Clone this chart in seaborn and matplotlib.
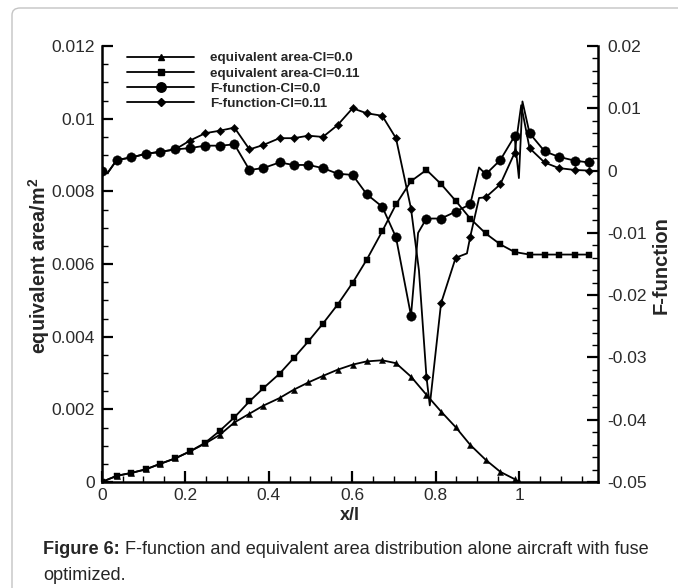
import matplotlib
matplotlib.use("Agg")
import matplotlib.pyplot as plt
from matplotlib.lines import Line2D
from matplotlib.patches import FancyBboxPatch
from matplotlib.ticker import MultipleLocator, FuncFormatter
import pandas as pd
import seaborn as sns

# ---------------- data ----------------
x_grid = [0.000, 0.036, 0.071, 0.106, 0.140, 0.176, 0.211, 0.248, 0.283, 0.318,
          0.354, 0.387, 0.426, 0.460, 0.495, 0.530, 0.565, 0.601, 0.635, 0.672,
          0.705, 0.741, 0.778, 0.813, 0.848, 0.883, 0.920, 0.955, 0.989, 1.025,
          1.061, 1.095, 1.133, 1.167]

area_cl011 = [0.0000, 0.00017, 0.00025, 0.00035, 0.00050, 0.00065, 0.00084, 0.00108, 0.00141, 0.00178,
              0.00222, 0.00258, 0.00298, 0.00341, 0.00387, 0.00436, 0.00488, 0.00548, 0.00612, 0.00690,
              0.00764, 0.00828, 0.00859, 0.00820, 0.00774, 0.00725, 0.00684, 0.00654, 0.00633, 0.00626,
              0.00626, 0.00626, 0.00626, 0.00626]

area_cl0_x = x_grid[:29] + [1.000]
area_cl0 = [0.0000, 0.00017, 0.00025, 0.00035, 0.00050, 0.00065, 0.00084, 0.00106, 0.00130, 0.00164,
            0.00188, 0.00210, 0.00231, 0.00254, 0.00274, 0.00292, 0.00309, 0.00323, 0.00332, 0.00335,
            0.00327, 0.00290, 0.00240, 0.00194, 0.00151, 0.00102, 0.00061, 0.00028, 0.00008, 0.00000]

f_cl0 = [0.0000, 0.0017, 0.0021, 0.0027, 0.0030, 0.0034, 0.0036, 0.0040, 0.0040, 0.0042,
         0.0001, 0.0004, 0.0013, 0.0009, 0.0009, 0.0004, -0.0005, -0.0007, -0.0038, -0.0058,
         -0.0107, -0.0233, -0.0077, -0.0077, -0.0066, -0.0054, -0.0006, 0.0017, 0.0055, 0.0060,
         0.0031, 0.0022, 0.0016, 0.0013]
f_cl0_extra_x = [0.014, 0.758, 0.904, 0.9995, 1.008]
f_cl0_extra_y = [-0.0004, -0.0100, 0.0005, -0.0012, 0.0111]

f_cl011 = [0.0000, 0.0017, 0.0021, 0.0027, 0.0030, 0.0034, 0.0048, 0.0060, 0.0064, 0.0069,
           0.0034, 0.0041, 0.0052, 0.0052, 0.0056, 0.0054, 0.0073, 0.0100, 0.0092, 0.0088,
           0.0052, -0.0061, -0.0331, -0.0213, -0.0140, -0.0106, -0.0043, -0.0022, 0.0028, 0.0036,
           0.0013, 0.0004, 0.0001, 0.0000]
f_cl011_extra_x = [0.014, 0.760, 0.786, 0.875, 0.904, 1.005]
f_cl011_extra_y = [-0.0004, -0.0160, -0.0377, -0.0133, -0.0044, 0.0105]

labels = ["equivalent area-Cl=0.0", "equivalent area-Cl=0.11",
          "F-function-Cl=0.0", "F-function-Cl=0.11"]
x_label = "x/l"
y_left_label = r"equivalent area/m$^{\mathbf{2}}$"
y_right_label = "F-function"
caption_bold = "Figure 6:"
caption_rest = " F-function and equivalent area distribution alone aircraft with fuse"
caption_line2 = "optimized."

# ---------------- style ----------------
sns.set_theme(style="white")
plt.rcParams["font.family"] = ["Liberation Sans", "DejaVu Sans"]
plt.rcParams["mathtext.fontset"] = "custom"
plt.rcParams["mathtext.rm"] = "Liberation Sans"
plt.rcParams["mathtext.bf"] = "Liberation Sans:bold"

W, H = 678, 588
fig = plt.figure(figsize=(W / 100, H / 100), dpi=100)


def fx(px):
    return px / W


def fy(py):
    return 1 - py / H


# frame border of the figure panel
fig.patches.append(FancyBboxPatch((fx(12), fy(640)), fx(700), fy(8) - fy(640),
                                  boxstyle="round,pad=0,rounding_size=0.012",
                                  transform=fig.transFigure, fill=False,
                                  edgecolor="#c4c4c4", linewidth=1.0, zorder=0))

ax_l, ax_r, ax_t, ax_b = 101.7, 598, 46, 482
ax = fig.add_axes([fx(ax_l), fy(ax_b), fx(ax_r - ax_l), fy(ax_t) - fy(ax_b)])
ax2 = ax.twinx()

LW = 1.3
MS = {"^": 4.4, "s": 5.0, "o": 6.8, "D": 4.2}


def draw(axis, xs, ys, marker, xe=None, ye=None):
    line_x = list(xs) + (list(xe) if xe else [])
    line_y = list(ys) + (list(ye) if ye else [])
    df_line = pd.DataFrame({"x": line_x, "y": line_y}).sort_values("x")
    sns.lineplot(data=df_line, x="x", y="y", ax=axis, color="black", lw=LW,
                 estimator=None, sort=False, legend=False, zorder=3)
    df_m = pd.DataFrame({"x": xs, "y": ys})
    sns.scatterplot(data=df_m, x="x", y="y", ax=axis, marker=marker,
                    s=MS[marker] ** 2, color="black", edgecolor="black",
                    linewidth=0.3, legend=False, zorder=4)


draw(ax, area_cl0_x, area_cl0, "^")
draw(ax, x_grid, area_cl011, "s")
draw(ax2, x_grid, f_cl0, "o", f_cl0_extra_x, f_cl0_extra_y)
draw(ax2, x_grid, f_cl011, "D", f_cl011_extra_x, f_cl011_extra_y)

# ---------------- axes ----------------
ax.set_xlim(0, 1.189)
ax.set_ylim(0, 0.012)
ax2.set_ylim(-0.05, 0.02)


def fmt(v, pos):
    v = round(v, 6) + 0.0
    return f"{v:g}"


ax.xaxis.set_major_locator(MultipleLocator(0.2))
ax.xaxis.set_minor_locator(MultipleLocator(0.05))
ax.yaxis.set_major_locator(MultipleLocator(0.002))
ax.yaxis.set_minor_locator(MultipleLocator(0.0005))
ax2.yaxis.set_major_locator(MultipleLocator(0.01))
ax2.yaxis.set_minor_locator(MultipleLocator(0.002))
for a in (ax.xaxis, ax.yaxis, ax2.yaxis):
    a.set_major_formatter(FuncFormatter(fmt))

TICK_FS = 12.5
TICK_COL = "#2a2a2a"
ax.tick_params(axis="x", which="both", direction="in", bottom=True, top=False,
               labelsize=TICK_FS, labelcolor=TICK_COL, width=1.6, color="black", pad=4)
ax.tick_params(axis="x", which="major", length=8)
ax.tick_params(axis="x", which="minor", length=4.5, width=1.0)
ax.tick_params(axis="y", which="both", direction="in", left=True, right=False,
               labelsize=TICK_FS, labelcolor=TICK_COL, width=1.6, color="black", pad=5)
ax.tick_params(axis="y", which="major", length=8)
ax.tick_params(axis="y", which="minor", length=4.5, width=1.0)
ax2.tick_params(axis="y", which="both", direction="in", right=True, left=False,
                labelsize=TICK_FS, labelcolor=TICK_COL, width=1.6, color="black", pad=6.5)
ax2.tick_params(axis="y", which="major", length=8)
ax2.tick_params(axis="y", which="minor", length=4.5, width=1.0)

for a in (ax, ax2):
    a.spines["top"].set_visible(False)
    for s in ("left", "right", "bottom"):
        a.spines[s].set_linewidth(1.8)
        a.spines[s].set_color("black")
ax2.spines["left"].set_visible(False)
ax2.spines["bottom"].set_visible(False)
ax.spines["right"].set_visible(False)

ax.set_xlabel("")
ax.set_ylabel("")
ax2.set_ylabel("")
fig.text(fx(350), fy(515), x_label, fontsize=13, fontweight="bold",
         ha="center", va="center")
fig.text(fx(39), fy(266), y_left_label, fontsize=14.2, fontweight="bold",
         ha="center", va="center", rotation=90)
fig.text(fx(661), fy(265), y_right_label, fontsize=14.5, fontweight="bold",
         ha="center", va="center", rotation=90)

# ---------------- legend ----------------
handles = [Line2D([], [], color="black", lw=LW, marker=m, markersize=MS[m],
                  markerfacecolor="black", markeredgecolor="black")
           for m in ("^", "s", "o", "D")]
leg = ax2.legend(handles, labels, loc="upper left",
                 bbox_to_anchor=(fx(127), fy(52)), bbox_transform=fig.transFigure,
                 frameon=False, borderpad=0, borderaxespad=0, handlelength=5.0,
                 handletextpad=1.15, labelspacing=0.2,
                 prop={"weight": "bold", "size": 9.7})

# ---------------- caption ----------------
CAP_FS = 12.0
t1 = fig.text(fx(43), fy(550), caption_bold, fontsize=CAP_FS, fontweight="bold",
              ha="left", va="center")
t2 = fig.text(0, fy(550), caption_rest, fontsize=CAP_FS, ha="left", va="center")
t3 = fig.text(fx(43), fy(575), caption_line2, fontsize=CAP_FS, ha="left", va="center")
fig.canvas.draw()
r = fig.canvas.get_renderer()
w_now = t1.get_window_extent(r).width + t2.get_window_extent(r).width
scale = 606.0 / w_now
for t in (t1, t2, t3):
    t.set_fontsize(CAP_FS * scale)
fig.canvas.draw()
bb = t1.get_window_extent(r)
t2.set_x(bb.x1 / W)

fig.savefig("out.png", dpi=100)
